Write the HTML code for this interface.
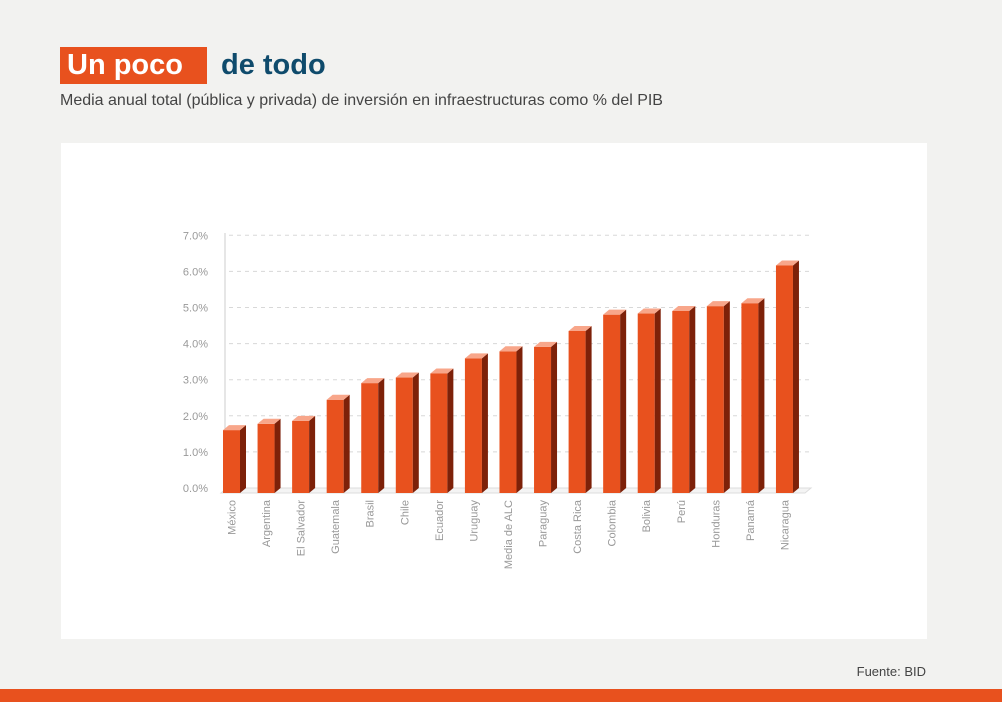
<!DOCTYPE html>
<html><head><meta charset="utf-8"><style>
body{margin:0;width:1002px;height:702px;background:#f2f2f0;position:relative;overflow:hidden;font-family:"Liberation Sans",sans-serif}
#t1{position:absolute;left:60px;top:47px;height:37px;background:#e8511e;color:#fff;font-weight:bold;font-size:29px;line-height:37px;padding:0 7px 0 7px;width:133px}
#t2{position:absolute;left:221px;top:47px;color:#0f4b6c;font-weight:bold;font-size:29px;line-height:37px}
#sub{position:absolute;left:60px;top:92px;font-size:16px;color:#444}
#panel{position:absolute;left:61px;top:143px;width:866px;height:496px;background:#fff}
#src{position:absolute;right:76px;top:664px;font-size:13px;color:#444}
#bot{position:absolute;left:0;top:689px;width:1002px;height:13px;background:#e8511e}
</style></head><body>
<div id="t1">Un poco</div>
<div id="t2">de todo</div>
<div id="sub">Media anual total (pública y privada) de inversión en infraestructuras como % del PIB</div>
<div id="panel"></div>
<svg id="chart" width="1002" height="702" style="position:absolute;left:0;top:0"></svg>
<div id="src">Fuente: BID</div>
<div id="bot"></div>
<script>
const categories=["México","Argentina","El Salvador","Guatemala","Brasil","Chile","Ecuador","Uruguay","Media de ALC","Paraguay","Costa Rica","Colombia","Bolivia","Perú","Honduras","Panamá","Nicaragua"];
const values=[1.7,1.87,1.95,2.52,2.97,3.12,3.23,3.64,3.83,3.95,4.38,4.82,4.85,4.92,5.05,5.13,6.15];
const ticks=[0,1,2,3,4,5,6,7];
const tickLabels=["0.0%","1.0%","2.0%","3.0%","4.0%","5.0%","6.0%","7.0%"];
const NS="http://www.w3.org/2000/svg";
const svg=document.getElementById('chart');
const gy=v=>488-v*36.1;          // back-wall gridline scale
const by=v=>493-v*37;            // front face scale
const bx=i=>223+i*34.56;
function mk(t,a,p){const e=document.createElementNS(NS,t);for(const k in a)e.setAttribute(k,a[k]);(p||svg).appendChild(e);return e;}
ticks.forEach((t,i)=>{
  const g=mk('line',{x1:229,x2:810,y1:gy(t),y2:gy(t),stroke:'#d8d8d8','stroke-dasharray':'4,4'});
  
  
  const l=mk('text',{x:208,y:gy(t)+4,'text-anchor':'end','font-size':11,fill:'#999'});
  l.textContent=tickLabels[i];
  
  
});
const ax=mk('line',{x1:225,x2:225,y1:233,y2:493,stroke:'#ccc'});


const fl=mk('polygon',{points:'221,493 805,493 811,488 227,488',fill:'#f4f4f4',stroke:'#ddd'});


const W=17,D=6,H=5;
values.forEach((v,i)=>{
  const x=bx(i),top=by(v),b=493;
  const g=mk('g',{});
  
  
  mk('rect',{x:x,y:top,width:W,height:b-top,fill:'#e8511e'},g);
  mk('polygon',{points:`${x+W},${top} ${x+W+D},${top-H} ${x+W+D},${b-H} ${x+W},${b}`,fill:'#7d2109'},g);
  mk('polygon',{points:`${x},${top} ${x+D},${top-H} ${x+W+D},${top-H} ${x+W},${top}`,fill:'#f8a68a'},g);
  const l=mk('text',{transform:`translate(${x+W/2+4},500) rotate(-90)`,'text-anchor':'end','font-size':11,fill:'#999'});
  l.textContent=categories[i];
  
  
});
</script>
</body></html>
